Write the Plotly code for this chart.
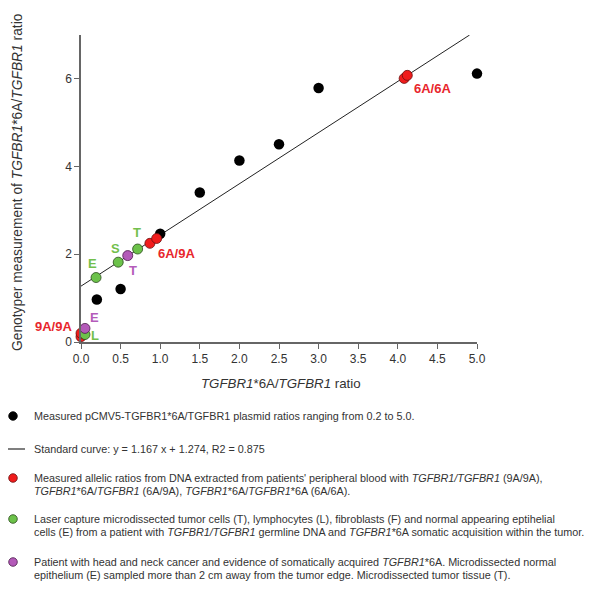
import plotly.graph_objects as go

# ---------------- data ----------------
plasmid_x = [0.2, 0.5, 1.0, 1.5, 2.0, 2.5, 3.0, 5.0]
plasmid_y = [0.97, 1.21, 2.47, 3.41, 4.14, 4.51, 5.79, 6.12]

slope = 1.167
intercept = 1.274

blood_x = [0.0, 0.0, 0.87, 0.955, 4.08, 4.12]
blood_y = [0.12, 0.20, 2.25, 2.36, 6.01, 6.08]

lcm_x = [0.05, 0.19, 0.47, 0.715]
lcm_y = [0.17, 1.47, 1.82, 2.12]

hn_x = [0.05, 0.59]
hn_y = [0.31, 1.97]

# label annotations (text, x, y)
red_labels = [("6A/6A", 4.44, 5.79), ("6A/9A", 1.21, 2.01), ("9A/9A", -0.35, 0.35)]
green_labels = [("E", 0.15, 1.80), ("S", 0.44, 2.14), ("T", 0.71, 2.49), ("L", 0.18, 0.15)]
purple_labels = [("T", 0.66, 1.62), ("E", 0.17, 0.55)]

x_ticks = [0.0, 0.5, 1.0, 1.5, 2.0, 2.5, 3.0, 3.5, 4.0, 4.5, 5.0]
y_ticks = [0, 2, 4, 6]

legend_texts = [
    ["Measured pCMV5-TGFBR1*6A/TGFBR1 plasmid ratios ranging from 0.2 to 5.0."],
    ["Standard curve: y = 1.167 x + 1.274, R2 = 0.875"],
    ["Measured allelic ratios from DNA extracted from patients' peripheral blood with <i>TGFBR1/TGFBR1</i> (9A/9A),",
     "<i>TGFBR1</i>*6A/<i>TGFBR1</i> (6A/9A), <i>TGFBR1</i>*6A/<i>TGFBR1</i>*6A (6A/6A)."],
    ["Laser capture microdissected tumor cells (T), lymphocytes (L), fibroblasts (F) and normal appearing eptihelial",
     "cells (E) from a patient with <i>TGFBR1/TGFBR1</i> germline DNA and <i>TGFBR1</i>*6A somatic acquisition within the tumor."],
    ["Patient with head and neck cancer and evidence of somatically acquired <i>TGFBR1</i>*6A. Microdissected normal",
     "epithelium (E) sampled more than 2 cm away from the tumor edge. Microdissected tumor tissue (T)."],
]

# ---------------- styling ----------------
W, H = 600, 590
OFF = 8  # page body offset
# target plot box in screenshot pixels
PX0, PX1, PY0, PY1 = 81, 477, 35, 342
L, T = PX0 - OFF, PY0 - OFF
R, B = W - (PX1 - OFF), H - (PY1 - OFF)
PW, PH = PX1 - PX0, PY1 - PY0
X_MIN, X_MAX = 0.0, 5.0
Y_MIN, Y_MAX = 0.0, 7.0

RED, GREEN, PURPLE = "#f01c1c", "#6cc24a", "#b35ab8"
RED_T, GREEN_T, PURPLE_T = "#e8262c", "#72bf4c", "#b45cba"
FONT = "Liberation Sans, Arial, sans-serif"
TXT = "#333333"

fig = go.Figure()

# standard curve, clipped at the top of the y axis
x_end = (Y_MAX - intercept) / slope
line_x = [0.0, x_end]
line_y = [intercept + slope * v for v in line_x]
fig.add_trace(go.Scatter(x=line_x, y=line_y, mode="lines",
                         line=dict(color="#222222", width=1), hoverinfo="skip"))

fig.add_trace(go.Scatter(x=plasmid_x, y=plasmid_y, mode="markers",
                         marker=dict(color="black", size=10.5), cliponaxis=False))
fig.add_trace(go.Scatter(x=blood_x, y=blood_y, mode="markers",
                         marker=dict(color=RED, size=10, line=dict(color="#6a1010", width=0.8)),
                         cliponaxis=False))
fig.add_trace(go.Scatter(x=lcm_x, y=lcm_y, mode="markers",
                         marker=dict(color=GREEN, size=10, line=dict(color="#2a4a1a", width=0.8)),
                         cliponaxis=False))
fig.add_trace(go.Scatter(x=hn_x, y=hn_y, mode="markers",
                         marker=dict(color=PURPLE, size=10, line=dict(color="#4a1a4a", width=0.8)),
                         cliponaxis=False))

annotations = []
# labels placed in paper coordinates (linear map of the data values) so that
# labels lying just outside the axis range are still shown
for labels, col in ((red_labels, RED_T), (green_labels, GREEN_T), (purple_labels, PURPLE_T)):
    for txt, x, y in labels:
        annotations.append(dict(xref="paper", yref="paper",
                                x=(x - X_MIN) / (X_MAX - X_MIN), y=(y - Y_MIN) / (Y_MAX - Y_MIN),
                                text="<b>%s</b>" % txt, showarrow=False,
                                xanchor="center", yanchor="middle",
                                font=dict(family=FONT, size=13, color=col)))


def px(xp):
    return (xp - PX0) / PW


def py(yp):
    return (PY1 - yp) / PH


# axis titles
annotations.append(dict(xref="paper", yref="paper", x=px(281), y=py(383),
                        xanchor="center", yanchor="middle",
                        text="<i>TGFBR1</i>*6A/<i>TGFBR1</i> ratio", showarrow=False,
                        font=dict(family=FONT, size=13.3, color=TXT)))
annotations.append(dict(xref="paper", yref="paper", x=px(17), y=py(182),
                        xanchor="center", yanchor="middle",
                        text="Genotyper measurement of <i>TGFBR1</i>*6A/<i>TGFBR1</i> ratio",
                        textangle=-90, showarrow=False,
                        font=dict(family=FONT, size=13.8, color=TXT)))

# legend text rows
row_y = [[416], [449], [478, 491], [519, 532], [562, 575]]
for lines, ys in zip(legend_texts, row_y):
    for line, yy in zip(lines, ys):
        annotations.append(dict(xref="paper", yref="paper", x=px(32), y=py(yy),
                                xanchor="left", yanchor="middle", text=line, showarrow=False,
                                font=dict(family=FONT, size=10.8, color=TXT)))

# legend glyphs
shapes = []
glyphs = [(416, "black", "black"), (478, RED, "#6a1010"), (519, GREEN, "#2a4a1a"), (562, PURPLE, "#4a1a4a")]
r = 4.3
for yy, fc, lc in glyphs:
    shapes.append(dict(type="circle", xref="paper", yref="paper",
                       x0=px(13 - r), x1=px(13 + r), y0=py(yy + r), y1=py(yy - r),
                       fillcolor=fc, line=dict(color=lc, width=0.8)))
shapes.append(dict(type="line", xref="paper", yref="paper",
                   x0=px(0), x1=px(25), y0=py(449), y1=py(449),
                   line=dict(color="#555555", width=1.5)))

axis_common = dict(showgrid=False, zeroline=False, showline=True, linecolor="#666666",
                   linewidth=1.5, ticks="outside", ticklen=5, tickcolor="#666666", tickwidth=1.2,
                   tickfont=dict(family=FONT, size=12, color=TXT))

fig.update_layout(
    width=W, height=H,
    margin=dict(l=L, r=R, t=T, b=B),
    paper_bgcolor="white", plot_bgcolor="white",
    showlegend=False,
    xaxis=dict(range=[X_MIN, X_MAX], tickvals=x_ticks, ticktext=["%.1f" % v for v in x_ticks], **axis_common),
    yaxis=dict(range=[Y_MIN, Y_MAX], tickvals=y_ticks, **axis_common),
    annotations=annotations,
    shapes=shapes,
)

fig.write_html("out.html")
